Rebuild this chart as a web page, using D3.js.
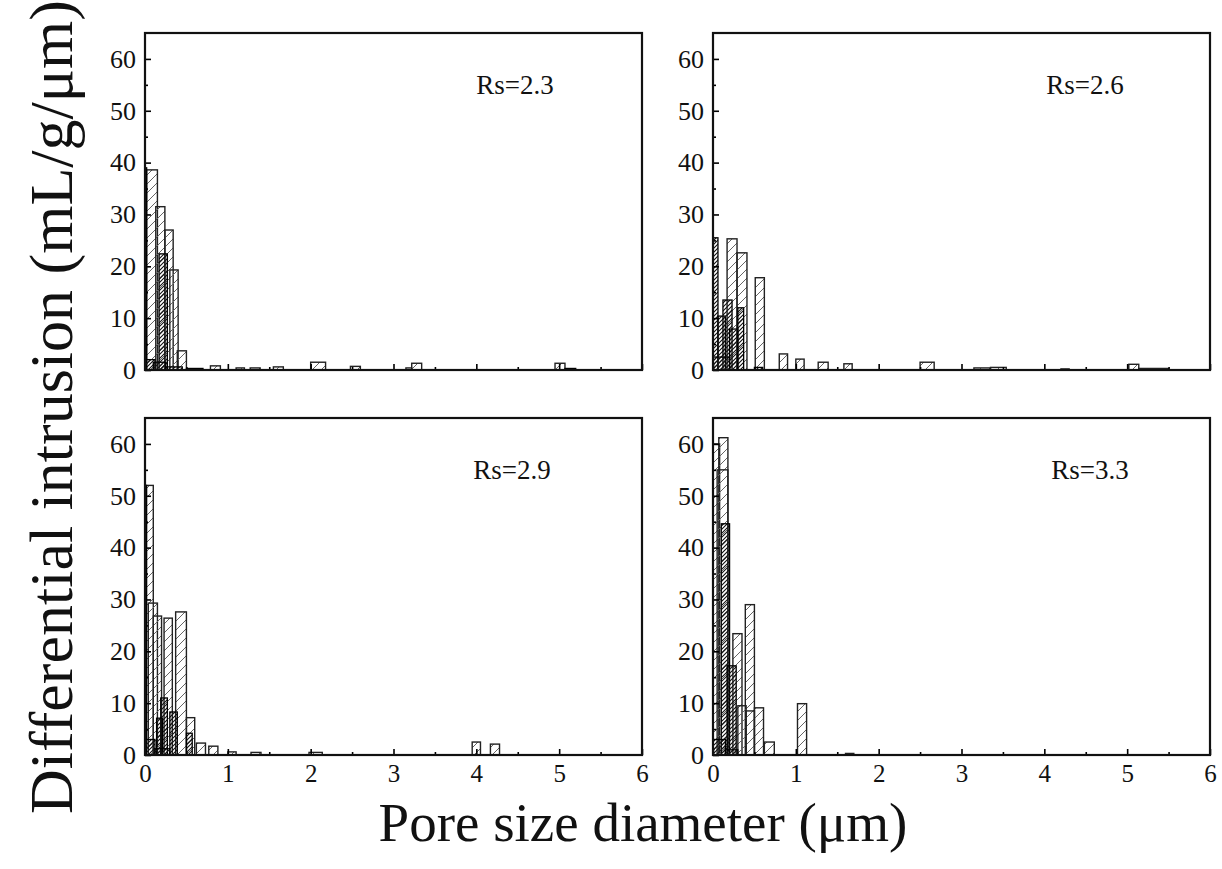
<!DOCTYPE html>
<html>
<head>
<meta charset="utf-8">
<script src="https://cdn.jsdelivr.net/npm/d3@7"></script>
<style>
  body { margin: 0; background: #fff; }
  svg { font-family: "Liberation Serif", "Times New Roman", serif; }
</style>
</head>
<body>
<main></main>
<script>
// pore size bins: [from, to, differential intrusion]
// "open" = light hatched bars, "dense" = dark hatched bars
const rs23Open = [[0.02, 0.15, 38.6], [0.13, 0.24, 31.5], [0.24, 0.34, 27], [0.3, 0.4, 19.3], [0.39, 0.5, 3.7],
  [0.79, 0.91, 0.8], [1.1, 1.2, 0.4], [1.27, 1.39, 0.4], [1.55, 1.67, 0.6], [2.0, 2.18, 1.5], [2.48, 2.6, 0.7],
  [3.15, 3.22, 0.4], [3.22, 3.34, 1.3], [4.95, 5.07, 1.3]]
const rs23Dense = [[0.0, 0.02, 39], [0.17, 0.27, 22.4], [0.0, 0.12, 2], [0.1, 0.25, 1.5], [0.25, 0.45, 0.6],
  [0.5, 0.7, 0.3], [5.07, 5.2, 0.3]]

const rs26Open = [[0.17, 0.29, 25.3], [0.29, 0.41, 22.6], [0.51, 0.62, 17.8], [0.8, 0.9, 3.1], [1.0, 1.1, 2.1],
  [1.27, 1.39, 1.5], [1.58, 1.68, 1.2], [2.5, 2.67, 1.5], [3.15, 3.35, 0.4], [3.35, 3.54, 0.5],
  [5.02, 5.14, 1.1], [5.14, 5.5, 0.3]]
const rs26Dense = [[0.0, 0.06, 25.5], [0.06, 0.15, 10.4], [0.12, 0.23, 13.5], [0.2, 0.3, 7.9], [0.3, 0.37, 12],
  [0.0, 0.2, 2.5], [0.5, 0.6, 0.5], [4.2, 4.3, 0.2]]

const rs29Open = [[0.01, 0.1, 52], [0.04, 0.15, 29.3], [0.1, 0.2, 26.8], [0.23, 0.33, 26.4], [0.37, 0.5, 27.6],
  [0.5, 0.6, 7.2], [0.62, 0.73, 2.3], [0.77, 0.88, 1.7], [1.0, 1.1, 0.6], [1.28, 1.4, 0.5], [1.98, 2.14, 0.5],
  [3.95, 4.05, 2.5], [4.17, 4.28, 2.1]]
const rs29Dense = [[0.0, 0.02, 52], [0.19, 0.27, 11], [0.14, 0.21, 7.1], [0.3, 0.39, 8.3], [0.5, 0.57, 4.2],
  [0.0, 0.12, 3], [0.12, 0.3, 1.2]]

const rs33Open = [[0.0, 0.08, 60], [0.07, 0.18, 61.2], [0.05, 0.18, 55], [0.24, 0.35, 23.4], [0.39, 0.5, 29],
  [0.3, 0.4, 9.5], [0.4, 0.5, 8.5], [0.5, 0.61, 9.1], [0.62, 0.74, 2.5], [1.02, 1.13, 9.9], [1.6, 1.7, 0.3]]
const rs33Dense = [[0.1, 0.2, 44.6], [0.17, 0.28, 17.2], [0.0, 0.15, 3], [0.15, 0.3, 1]]

const panelNames = ['Rs=2.3', 'Rs=2.6', 'Rs=2.9', 'Rs=3.3']
const xTicks = [0, 1, 2, 3, 4, 5, 6]
const yTicks = [0, 10, 20, 30, 40, 50, 60]

const panels = [
  {name: panelNames[0], open: rs23Open, dense: rs23Dense, left: 145, top: 33, xLabels: false, lx: 515},
  {name: panelNames[1], open: rs26Open, dense: rs26Dense, left: 713, top: 33, xLabels: false, lx: 1085},
  {name: panelNames[2], open: rs29Open, dense: rs29Dense, left: 145, top: 418, xLabels: true, lx: 512},
  {name: panelNames[3], open: rs33Open, dense: rs33Dense, left: 713, top: 418, xLabels: true, lx: 1090}
]
const pw = 497, ph = 337

const svg = d3.select('main').append('svg')
  .attr('width', 1222)
  .attr('height', 869)

const defs = svg.append('defs')
const hatch = (id, size, color, w) => {
  const p = defs.append('pattern')
    .attr('id', id)
    .attr('patternUnits', 'userSpaceOnUse')
    .attr('width', size).attr('height', size)
  p.append('path')
    .attr('d', `M0,${size} L${size},0 M${-size / 2},${size / 2} L${size / 2},${-size / 2} M${size / 2},${size * 1.5} L${size * 1.5},${size / 2}`)
    .attr('stroke', color).attr('stroke-width', w)
}
hatch('hatchOpen', 9, '#666', 1)
hatch('hatchDense', 4, '#111', 1.1)

panels.forEach(p => {
  const x = d3.scaleLinear().domain([0, 6]).range([0, pw])
  const y = d3.scaleLinear().domain([0, 65]).range([ph, 0])
  const g = svg.append('g').attr('transform', `translate(${p.left},${p.top})`)

  const drawBars = (data, cls, fill, stroke, sw) => {
    g.append('g').selectAll('rect')
      .data(data)
      .enter().append('rect')
        .attr('class', cls)
        .attr('x', d => x(d[0]))
        .attr('width', d => x(d[1]) - x(d[0]))
        .attr('y', d => y(d[2]))
        .attr('height', d => ph - y(d[2]))
        .attr('fill', fill)
        .attr('stroke', stroke)
        .attr('stroke-width', sw)
  }
  drawBars(p.open, 'open', 'url(#hatchOpen)', '#222', 1.4)
  drawBars(p.dense, 'dense', 'url(#hatchDense)', '#000', 1.3)

  // minor ticks
  g.append('g')
    .attr('transform', `translate(0,${ph})`)
    .call(d3.axisBottom(x).tickValues(d3.range(0.5, 6, 1)).tickSize(-3).tickFormat(''))
  g.append('g')
    .call(d3.axisLeft(y).tickValues(d3.range(5, 65, 10)).tickSize(-3).tickFormat(''))

  const xa = g.append('g')
    .attr('transform', `translate(0,${ph})`)
    .call(d3.axisBottom(x).tickValues(xTicks).tickSize(-6).tickPadding(9)
      .tickFormat(p.xLabels ? d3.format('d') : ''))
  g.append('g')
    .call(d3.axisLeft(y).tickValues(yTicks).tickSize(-6).tickPadding(9))

  g.selectAll('.domain').remove()
  g.selectAll('.tick line').attr('stroke', '#000').attr('stroke-width', 1.6)
  g.selectAll('.tick text')
    .attr('font-family', '"Liberation Serif", serif')
    .attr('font-size', 26)
    .attr('fill', '#111')
  xa.selectAll('.tick text').attr('font-size', 25).attr('dy', '0.7em')

  g.append('rect')
    .attr('width', pw).attr('height', ph)
    .attr('fill', 'none')
    .attr('stroke', '#111')
    .attr('stroke-width', 2.2)

  svg.append('text')
    .attr('x', p.lx)
    .attr('y', p.top + 61)
    .attr('text-anchor', 'middle')
    .attr('font-size', 27)
    .attr('fill', '#111')
    .text(p.name)
})

svg.append('text')
  .attr('transform', 'translate(72,407) rotate(-90)')
  .attr('text-anchor', 'middle')
  .attr('font-size', 62)
  .attr('fill', '#111')
  .text('Differential intrusion (mL/g/μm)')

svg.append('text')
  .attr('x', 643)
  .attr('y', 841)
  .attr('text-anchor', 'middle')
  .attr('font-size', 55)
  .attr('fill', '#111')
  .text('Pore size diameter (μm)')
</script>
</body>
</html>
